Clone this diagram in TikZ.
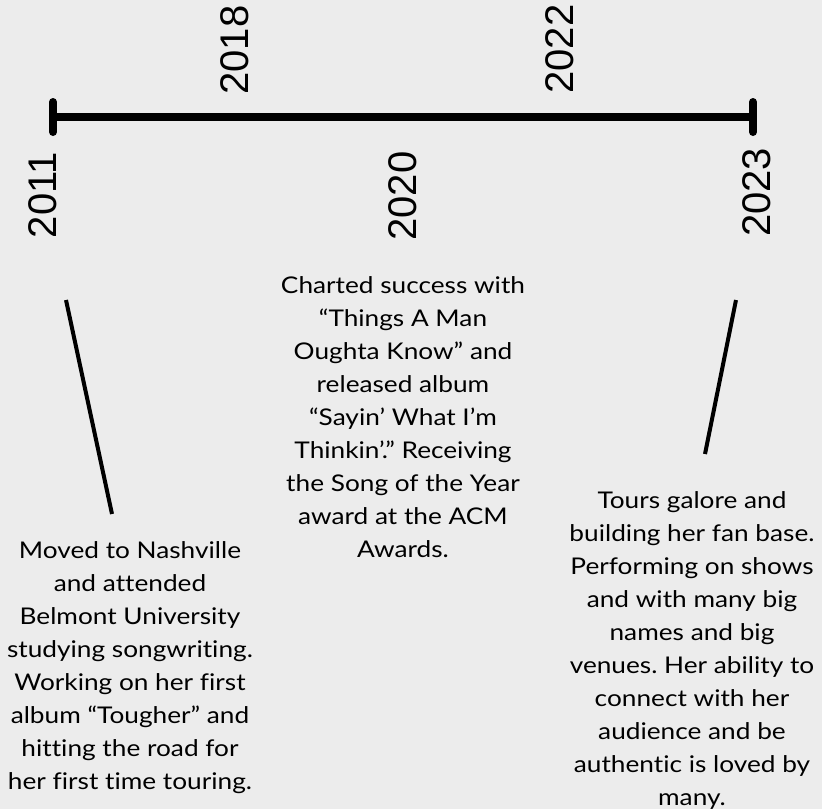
\documentclass[tikz,border=0pt]{standalone}
\usepackage{fontspec}
\setmainfont[FakeStretch=1.14,Ligatures=NoCommon]{Lato}
\newfontfamily\yearfont{Liberation Sans}
\definecolor{bgcol}{HTML}{ECECEC}
\frenchspacing
\begin{document}
\begin{tikzpicture}[x=1pt,y=-1pt,
  yearlabel/.style={font=\yearfont\fontsize{40}{40}\selectfont, rotate=90, inner sep=0pt, anchor=center},
  desc/.style={font=\fontsize{23}{33}\selectfont\frenchspacing, align=center, inner sep=0pt, anchor=north},
  bar/.style={line width=7.5pt},
  endtick/.style={line width=8pt, line cap=round},
  link/.style={line width=4pt}]
\fill[bgcol] (0,0) rectangle (822,809);
\useasboundingbox (0,0) rectangle (822,809);
% timeline
\coordinate (tl) at (53,117);
\coordinate (tr) at (753,117);
\coordinate (tlt) at (53,102);
\coordinate (tlb) at (53,132);
\coordinate (trt) at (753,102);
\coordinate (trb) at (753,132);
\draw[bar] (tl) -- (tr);
\draw[endtick] (tlt) -- (tlb);
\draw[endtick] (trt) -- (trb);
% years
\node[yearlabel] (y2011) at (42.5,195) {2011};
\node[yearlabel] (y2018) at (234.5,50) {2018};
\node[yearlabel] (y2020) at (403,196) {2020};
\node[yearlabel] (y2022) at (559.5,49) {2022};
\node[yearlabel] (y2023) at (757,192.5) {2023};
% descriptions
\node[desc] (d2020) at (403,270) {\strut Charted success with\\“Things A Man\\Oughta Know” and\\released album\\“Sayin’ What I’m\\Thinkin’.” Receiving\\the Song of the Year\\award at the ACM\\Awards.};
\node[desc] (d2011) at (130,535) {\strut Moved to Nashville\\and attended\\Belmont University\\studying songwriting.\\Working on her first\\album “Tougher” and\\hitting the road for\\her first time touring.};
\node[desc] (d2023) at (692,485) {\strut Tours galore and\\building her fan base.\\Performing on shows\\and with many big\\names and big\\venues. Her ability to\\connect with her\\audience and be\\authentic is loved by\\many.};
% connectors
\coordinate (la) at (66,300);
\coordinate (lb) at (112,514);
\coordinate (ra) at (736,300);
\coordinate (rb) at (705,454);
\draw[link] (la) -- (lb);
\draw[link] (ra) -- (rb);
\end{tikzpicture}
\end{document}
